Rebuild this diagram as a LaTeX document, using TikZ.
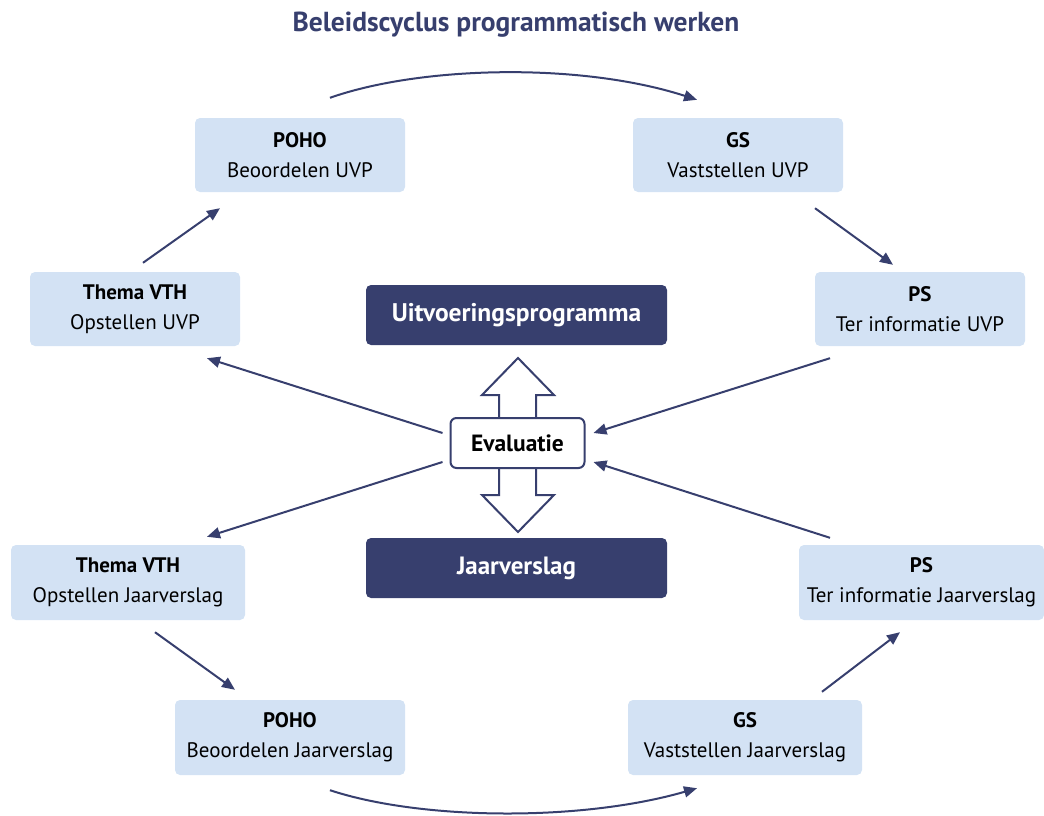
\documentclass[tikz,border=0pt]{standalone}
\usepackage{fontspec}
\setmainfont{PT Sans}
\usetikzlibrary{arrows.meta}
\definecolor{navy}{HTML}{373F6E}
\definecolor{lightbox}{HTML}{D3E2F4}
\begin{document}
\begin{tikzpicture}[x=1pt,y=-1pt,
  lbox/.style={fill=lightbox,rounded corners=5pt,align=center,inner sep=0pt,
    font=\fontsize{21}{30}\selectfont,text=black,minimum height=74pt},
  dbox/.style={fill=navy,rounded corners=5pt,align=center,inner sep=0pt,
    font=\fontsize{25}{29}\selectfont\bfseries,text=white,minimum width=301pt,minimum height=60pt},
  arr/.style={draw=navy,line width=2pt,-{Triangle[length=13pt,width=11pt]}}
]
\path[use as bounding box] (0,0) rectangle (1044,816);

\node[font=\fontsize{27.5}{31}\selectfont\bfseries,text=navy] (title) at (516,25) {Beleidscyclus programmatisch werken};

\node[lbox,minimum width=210pt] (pohoU) at (300,155) {\textbf{POHO}\\Beoordelen UVP};
\node[lbox,minimum width=210pt] (gsU) at (738,155) {\textbf{GS}\\Vaststellen UVP};
\node[lbox,minimum width=210pt] (thU) at (135,309) {\textbf{Thema VTH}\\Opstellen UVP};
\node[lbox,minimum width=210pt] (psU) at (920,309) {\textbf{PS}\\Ter informatie UVP};

\node[dbox,font=\fontsize{25.5}{29}\selectfont\bfseries] (uvp) at (516.5,315) {Uitvoeringsprogramma};
\node[dbox] (jv) at (516.5,568) {Jaarverslag};

\draw[navy,line width=2pt,fill=white,line join=miter]
  (518,358) -- (482,395) -- (499,395) -- (499,495) -- (482,495) -- (518,532)
  -- (554,495) -- (536,495) -- (536,395) -- (554,395) -- cycle;
\node[draw=navy,line width=2pt,fill=white,rounded corners=6pt,minimum width=134pt,minimum height=50pt,inner sep=0pt,font=\fontsize{23.5}{27}\selectfont\bfseries] (ev) at (517.5,443) {Evaluatie};

\node[lbox,minimum width=234pt,minimum height=75pt] (thJ) at (128,582.5) {\textbf{Thema VTH}\\Opstellen Jaarverslag};
\node[lbox,minimum width=245pt,minimum height=75pt] (psJ) at (921.5,582.5) {\textbf{PS}\\Ter informatie Jaarverslag};
\node[lbox,minimum width=230pt,minimum height=75pt] (pohoJ) at (290,737.5) {\textbf{POHO}\\Beoordelen Jaarverslag};
\node[lbox,minimum width=234pt,minimum height=75pt] (gsJ) at (745,737.5) {\textbf{GS}\\Vaststellen Jaarverslag};

% cycle arrows
\draw[arr] ([shift={(30,-20)}]pohoU.north) .. controls (420,66) and (580,62) .. ([shift={(-41,-18)}]gsU.north);
\draw[arr] ([shift={(77,16)}]gsU.south) -- ([shift={(-27,-7)}]psU.north);
\draw[arr] ([shift={(-90,12)}]psU.south) -- ([shift={(8,-10)}]ev.east);
\draw[arr] ([shift={(-7,-10)}]ev.west) -- ([shift={(72,12)}]thU.south);
\draw[arr] ([shift={(8,-9)}]thU.north) -- ([shift={(-80,16)}]pohoU.south);

\draw[arr] ([shift={(-7,19)}]ev.west) -- ([shift={(79,-8)}]thJ.north);
\draw[arr] ([shift={(27,12)}]thJ.south) -- ([shift={(-55,-10)}]pohoJ.north);
\draw[arr] ([shift={(40,15)}]pohoJ.south) .. controls (420,820) and (580,822) .. ([shift={(-48,13)}]gsJ.south);
\draw[arr] ([shift={(77,-8)}]gsJ.north) -- ([shift={(-21.5,12)}]psJ.south);
\draw[arr] ([shift={(-91.5,-7)}]psJ.north) -- ([shift={(8,19)}]ev.east);
\end{tikzpicture}
\end{document}
